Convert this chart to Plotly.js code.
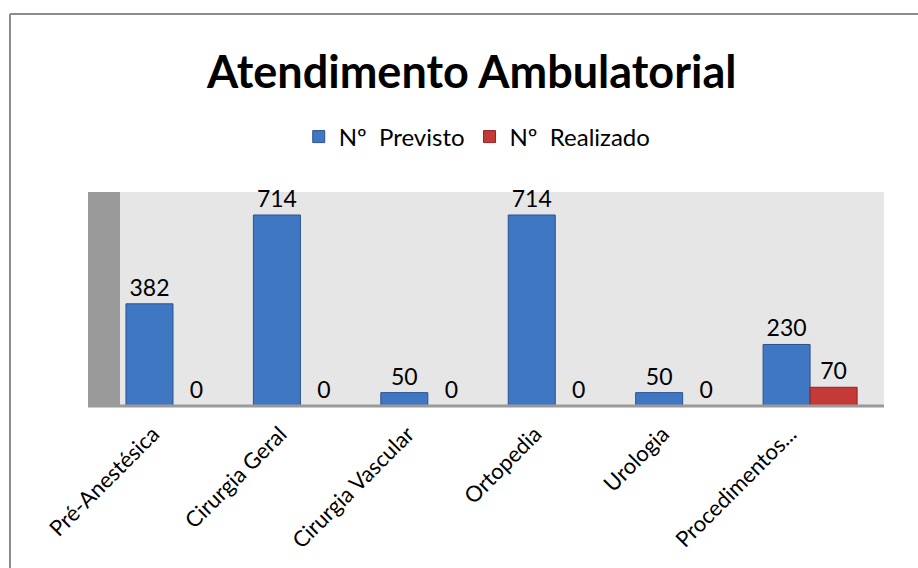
<!DOCTYPE html>
<html>
<head>
<meta charset="utf-8">
<script src="https://cdn.plot.ly/plotly-3.0.1.min.js"></script>
<style>html,body{margin:0;padding:0;background:#fff;}</style>
</head>
<body>
<div id="chart" style="width:918px;height:568px;"></div>
<script>
var categories = ["Pré-Anestésica", "Cirurgia Geral", "Cirurgia Vascular", "Ortopedia", "Urologia", "Procedimentos..."];
var previsto = [382, 714, 50, 714, 50, 230];
var realizado = [0, 0, 0, 0, 0, 70];
var seriesNames = ["Nº  Previsto", "Nº  Realizado"];

var FONT = "Lato, 'Open Sans', sans-serif";
var xIdx = categories.map(function(_, i){ return i; });

var traces = [
  {
    type: "bar", name: seriesNames[0], x: xIdx, y: previsto,
    text: previsto.map(String), textposition: "outside", cliponaxis: false,
    textfont: {family: FONT, size: 23, color: "#000"},
    marker: {color: "#3f77c2", line: {color: "#2a5290", width: 1}}
  },
  {
    type: "bar", name: seriesNames[1], x: xIdx, y: realizado,
    text: realizado.map(String), textposition: "outside", cliponaxis: false,
    textfont: {family: FONT, size: 23, color: "#000"},
    marker: {color: "#c53a36", line: {color: "#8e2422", width: 1}}
  }
];

var layout = {
  width: 918, height: 568,
  margin: {l: 88, r: 34, t: 192, b: 162, pad: 0},
  paper_bgcolor: "#ffffff",
  plot_bgcolor: "#e6e6e6",
  font: {family: FONT, color: "#000"},
  title: {
    text: "<b>Atendimento Ambulatorial</b>",
    font: {family: FONT, size: 45, color: "#000"},
    x: 0.482, xref: "paper", xanchor: "center",
    y: 0.873, yref: "container", yanchor: "middle"
  },
  showlegend: true,
  legend: {
    orientation: "h", x: 0.489, xanchor: "center", y: 1.257, yanchor: "middle",
    font: {family: FONT, size: 24, color: "#000"},
    bgcolor: "rgba(0,0,0,0)", itemclick: false, itemwidth: 30
  },
  barmode: "group", bargap: 0.262, bargroupgap: 0,
  xaxis: {
    type: "linear", range: [-0.667, 5.58],
    tickmode: "array", tickvals: xIdx, ticktext: categories,
    tickangle: -45, ticks: "", showgrid: false, zeroline: false, showline: false,
    tickfont: {family: FONT, size: 22, color: "#000"},
    ticklabelshift: -20, ticklabelstandoff: 10,
    fixedrange: true
  },
  yaxis: {
    range: [0, 800], showticklabels: false, showgrid: false, zeroline: false,
    showline: false, ticks: "", fixedrange: true
  },
  shapes: [
    {type: "rect", xref: "paper", yref: "paper", x0: 0, x1: 0.0402, y0: 0, y1: 1,
     fillcolor: "#9a9a9a", line: {width: 0}, layer: "below"},
    {type: "line", xref: "paper", yref: "paper", x0: 0, x1: 1, y0: 0, y1: 0,
     line: {color: "#9a9a9a", width: 3}},
    {type: "line", xref: "paper", yref: "paper", x0: -0.098, x1: -0.098, y0: -1, y1: 1.832,
     line: {color: "#8c8c8c", width: 2}},
    {type: "line", xref: "paper", yref: "paper", x0: -0.098, x1: 1.2, y0: 1.832, y1: 1.832,
     line: {color: "#8c8c8c", width: 2}}
  ]
};

Plotly.newPlot("chart", traces, layout, {displayModeBar: false, staticPlot: true});
</script>
</body>
</html>
